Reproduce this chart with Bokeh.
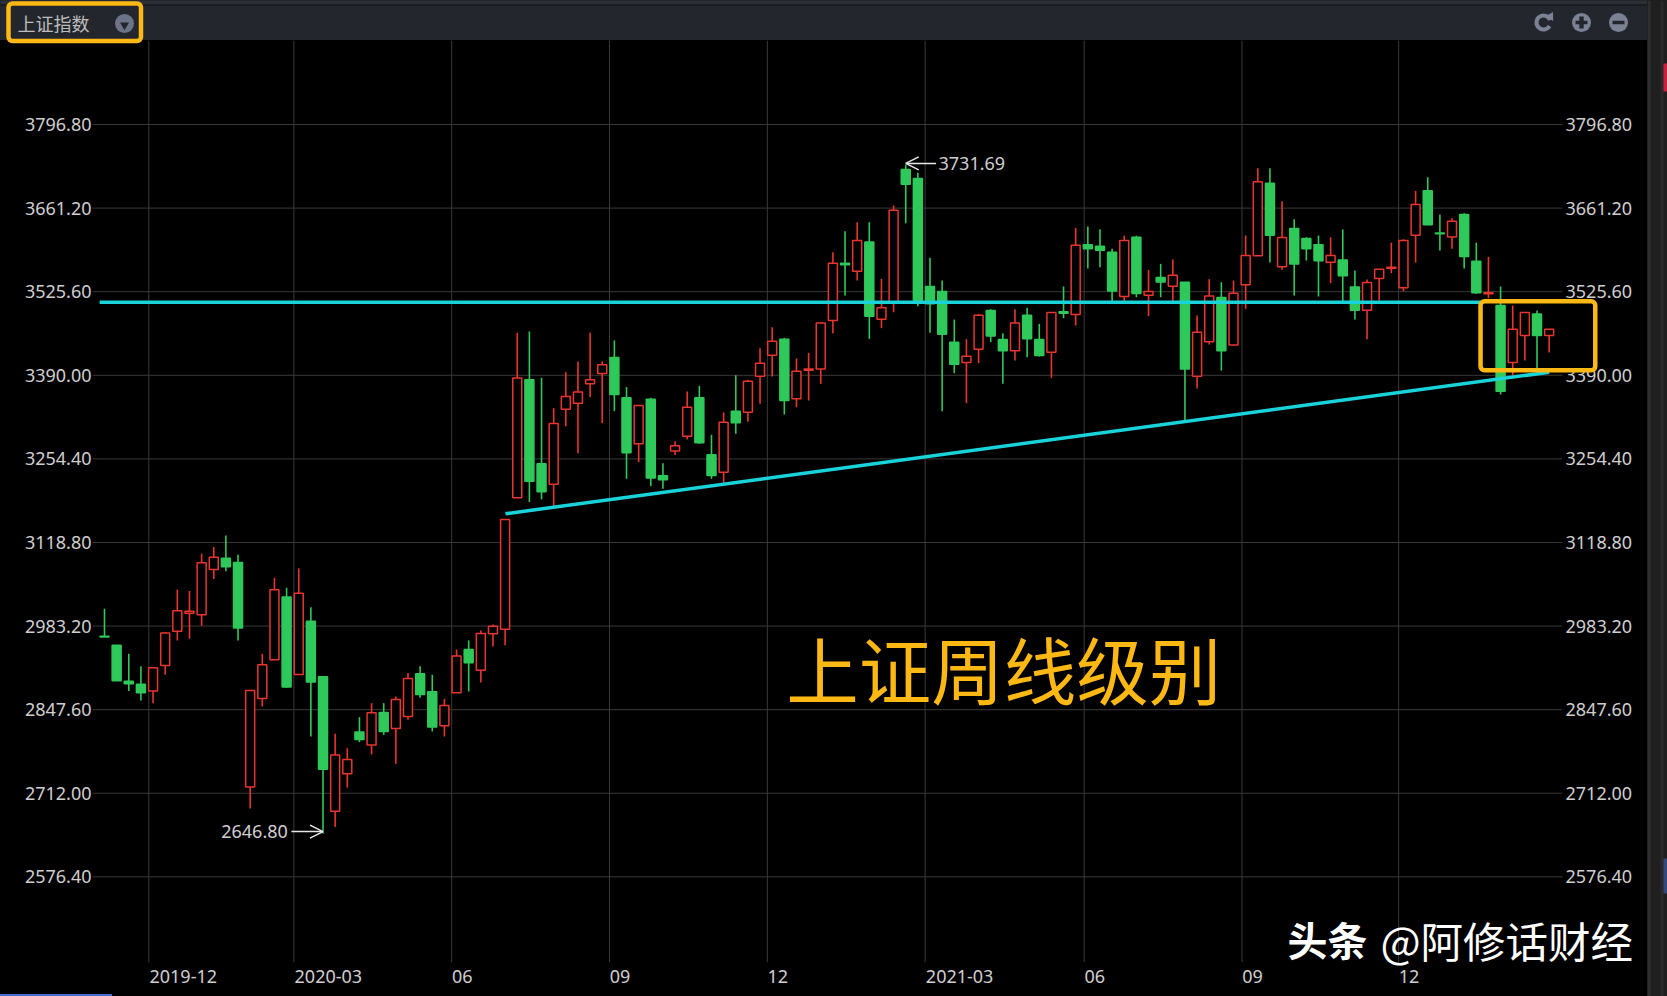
from bokeh.plotting import figure
from bokeh.embed import file_html
from bokeh.resources import INLINE
from bokeh.core.properties import value
from bokeh.models import (ColumnDataSource, Range1d, LinearAxis, FixedTicker, Label,
                          BoxAnnotation, Arrow, OpenHead)

opens = [2966.9, 2952.3, 2893.9, 2889.0, 2877.7, 2919.3, 2975.0, 3004.2, 3001.5, 3075.0, 3093.4, 3086.4, 2722.0, 2865.8, 2928.5, 3030.2, 2904.7, 2991.2, 2900.9, 2683.0, 2743.6, 2811.2, 2790.1, 2843.1, 2817.1, 2836.6, 2905.8, 2876.6, 2821.4, 2875.0, 2945.3, 2911.7, 2970.7, 2978.2,
         3191.3, 3382.7, 3246.4, 3213.4, 3335.1, 3344.8, 3376.2, 3392.9, 3418.9, 3353.5, 3278.9, 3351.3, 3226.9, 3267.0, 3291.3, 3353.5, 3261.0, 3232.9, 3331.8, 3330.2, 3388.6, 3422.7, 3448.6, 3351.9,
         3398.3, 3400.4, 3478.8, 3571.8, 3558.8, 3606.4, 3481.0, 3509.1, 3723.8, 3709.2, 3534.0, 3525.9, 3443.7, 3410.7, 3432.3, 3495.0, 3448.0, 3429.6, 3487.5, 3448.0, 3427.5, 3492.9, 3488.6, 3601.6, 3599.4, 3589.7, 3517.8, 3614.0, 3519.9, 3548.6, 3534.5,
         3541.0, 3388.5, 3444.2, 3516.1, 3439.3, 3536.7, 3583.7, 3701.6, 3565.9, 3628.1, 3611.8, 3601.6, 3573.4, 3577.2, 3533.4, 3495.6, 3546.9, 3563.7, 3531.8, 3617.2, 3689.2, 3621.0, 3614.5, 3650.8, 3575.1, 3522.1, 3503.2, 3410.7, 3454.5, 3489.6, 3454.5]
closes = [2965.3, 2894.4, 2889.6, 2875.0, 2915.5, 2971.8, 3008.0, 3007.4, 3085.8, 3095.0, 3079.4, 2979.9, 2878.8, 2920.4, 3042.1, 2884.2, 3036.6, 2892.3, 2751.1, 2773.9, 2766.8, 2799.3, 2842.5, 2812.3, 2864.2, 2898.2, 2872.3, 2819.3, 2854.4, 2934.5, 2923.6, 2971.2, 2983.1, 3156.1,
          3385.4, 3218.3, 3201.0, 3311.8, 3355.6, 3362.7, 3382.7, 3407.0, 3358.9, 3264.3, 3341.0, 3223.2, 3220.5, 3275.6, 3338.3, 3280.5, 3227.5, 3314.0, 3312.9, 3380.5, 3409.7, 3445.4, 3349.1, 3396.7,
          3400.4, 3475.0, 3571.8, 3569.1, 3608.6, 3485.9, 3499.4, 3657.8, 3700.0, 3511.8, 3505.9, 3456.7, 3408.0, 3421.0, 3487.5, 3453.9, 3429.6, 3475.0, 3449.1, 3422.0, 3491.8, 3490.7, 3601.0, 3595.1, 3592.9, 3526.9, 3608.6, 3522.6, 3525.9, 3541.5, 3552.4,
          3400.4, 3459.9, 3518.8, 3429.6, 3523.2, 3584.3, 3703.8, 3617.2, 3613.5, 3570.7, 3595.1, 3575.6, 3584.3, 3551.3, 3495.6, 3540.5, 3562.1, 3565.3, 3608.6, 3667.0, 3634.0, 3619.4, 3640.0, 3582.6, 3523.7, 3523.7, 3364.2, 3464.8, 3491.8, 3454.5, 3464.8]
highs = [3011.2, 2952.3, 2938.2, 2918.2, 2915.5, 2973.4, 3042.6, 3039.9, 3100.4, 3111.3, 3130.2, 3098.8, 2878.8, 2938.2, 3061.5, 3045.3, 3076.7, 3013.9, 2900.9, 2808.5, 2785.2, 2835.5, 2858.2, 2858.2, 2869.0, 2906.9, 2918.2, 2904.2, 2865.2, 2945.3, 2959.9, 2976.1, 2985.8, 3156.1,
         3458.9, 3461.1, 3385.9, 3336.7, 3395.1, 3412.4, 3458.9, 3412.4, 3446.5, 3370.8, 3341.0, 3353.5, 3247.5, 3283.2, 3363.7, 3372.9, 3293.5, 3329.7, 3390.2, 3382.7, 3434.0, 3468.1, 3450.8, 3417.3,
         3426.4, 3476.1, 3589.7, 3623.7, 3638.3, 3638.3, 3546.4, 3665.4, 3731.69, 3718.4, 3580.5, 3543.7, 3480.4, 3448.5, 3489.6, 3497.2, 3458.3, 3497.2, 3499.4, 3473.4, 3491.8, 3534.0, 3629.1, 3631.3, 3627.0, 3595.1, 3616.2, 3616.2, 3561.0, 3570.7, 3577.8,
         3541.0, 3486.9, 3545.9, 3541.0, 3543.7, 3616.7, 3725.9, 3725.9, 3672.4, 3643.2, 3614.0, 3616.7, 3614.0, 3626.4, 3559.9, 3545.3, 3562.1, 3604.8, 3610.8, 3689.2, 3711.3, 3650.8, 3644.8, 3652.9, 3604.8, 3582.1, 3534.0, 3503.2, 3491.8, 3495.0, 3464.8]
lows = [2965.3, 2894.4, 2877.7, 2862.5, 2858.2, 2904.2, 2959.9, 2962.6, 2983.7, 3059.4, 3072.3, 2959.9, 2687.3, 2852.8, 2928.5, 2883.1, 2904.7, 2804.1, 2646.8, 2657.1, 2720.9, 2795.0, 2775.0, 2806.8, 2759.8, 2831.2, 2866.9, 2812.3, 2804.1, 2875.0, 2877.1, 2891.7, 2950.1, 2952.3,
        3191.3, 3184.2, 3188.6, 3177.2, 3307.5, 3263.7, 3354.6, 3312.4, 3331.8, 3222.1, 3249.1, 3210.2, 3205.9, 3260.5, 3285.9, 3278.9, 3222.1, 3215.6, 3295.1, 3314.5, 3343.7, 3388.1, 3326.4, 3338.3,
        3349.1, 3376.1, 3458.3, 3519.4, 3543.7, 3449.1, 3466.4, 3492.3, 3636.7, 3502.1, 3458.8, 3331.8, 3393.4, 3344.7, 3409.6, 3443.7, 3376.1, 3413.9, 3419.3, 3420.4, 3385.8, 3482.6, 3470.7, 3563.2, 3565.3, 3505.9, 3505.9, 3516.7, 3485.9, 3516.7, 3508.6,
        3316.6, 3368.5, 3439.9, 3397.7, 3439.3, 3497.7, 3583.7, 3572.9, 3561.0, 3519.4, 3576.1, 3517.8, 3539.4, 3505.9, 3480.4, 3448.5, 3511.3, 3555.6, 3526.4, 3572.9, 3634.0, 3592.4, 3595.1, 3563.2, 3522.1, 3515.0, 3358.8, 3389.6, 3413.9, 3400.4, 3426.9]

price_ticks = [3796.80, 3661.20, 3525.60, 3390.00, 3254.40, 3118.80, 2983.20, 2847.60, 2712.00, 2576.40]
month_ticks = [3.65, 15.6, 28.6, 41.6, 54.6, 67.6, 80.7, 93.7, 106.6]
month_labels = ["2019-12", "2020-03", "06", "09", "12", "2021-03", "06", "09", "12"]

resistance_price = 3508.6
support_idx = [33.03, 119.0]
support_price = [3165.4, 3395.0]
low_point = (18, 2646.80)
high_point = (66, 3731.69)

RED, GREEN, CYAN, ORANGE = "#e8352f", "#2fc85a", "#19d3da", "#fdb813"
FONT = "Noto Sans"
CJK = "Noto Sans CJK SC"
LABEL = "#cfcfcf"
PANEL = "#23262d"
EDGE = "#2c2f35"


def pin(left, top, backing=None):
    css = {"position": "fixed", "left": f"{left}px", "top": f"{top}px"}
    if backing:
        css["background-color"] = backing
    return css


# ---- header ----
hdr = figure(width=1647, height=40, x_range=Range1d(0, 1647), y_range=Range1d(40, 0),
             x_axis_type=None, y_axis_type=None, toolbar_location=None, output_backend="svg",
             min_border=0, background_fill_color=PANEL, border_fill_color=PANEL, outline_line_color=None,
             styles=pin(0, 0, PANEL))
hdr.quad(left=[0], right=[1647], top=[0], bottom=[4], fill_color=EDGE, line_color=None)
hdr.quad(left=[0], right=[1647], top=[4], bottom=[5], fill_color="#111317", line_color=None)
hdr.text(x=[17], y=[22], text=["上证指数"], text_font=value(CJK), text_font_size="18px",
         text_color="#bdbdbd", text_baseline="middle")
ICON = "#7b8294"
hdr.scatter(x=[124, 1581, 1618], y=[23, 22, 22], size=19, marker="circle",
            fill_color=["#6e7488", ICON, ICON], line_color=None)
hdr.scatter(x=[124], y=[24.5], size=9, marker="inverted_triangle", fill_color=PANEL, line_color=None)
hdr.quad(left=[1575, 1578.8], right=[1587, 1583.2], top=[20.3, 16], bottom=[23.7, 28], fill_color=PANEL, line_color=None)
hdr.quad(left=[1612], right=[1624], top=[20.3], bottom=[23.7], fill_color=PANEL, line_color=None)
hdr.arc(x=[1543], y=[22], radius=[7], start_angle=[0.35], end_angle=[5.75], line_color=ICON, line_width=4)
hdr.scatter(x=[1550], y=[16], size=9, marker="triangle", angle=[-0.5], fill_color=ICON, line_color=None)

# ---- main chart ----
idx = list(range(len(opens)))
is_up = [c >= o for o, c in zip(opens, closes)]
src = ColumnDataSource(dict(
    x=idx, high=highs, low=lows,
    top=[max(o, c) for o, c in zip(opens, closes)],
    bottom=[min(o, c) for o, c in zip(opens, closes)],
    stroke=[RED if u else GREEN for u in is_up],
    fill=["#000000" if u else GREEN for u in is_up],
))

X0, X1, Y0, Y1 = -0.988, 120.1, 2437.5, 3933.05
p = figure(width=1647, height=956, x_range=Range1d(X0, X1), y_range=Range1d(Y0, Y1),
           x_axis_type=None, y_axis_type=None, toolbar_location=None, output_backend="svg",
           background_fill_color="#000000", border_fill_color="#000000", outline_line_color=None,
           min_border_left=92, min_border_right=85, min_border_top=0, min_border_bottom=34,
           styles=pin(0, 40, "#000000"))

ytick = FixedTicker(ticks=price_ticks)
overrides_y = {t: f"{t:.2f}" for t in price_ticks}
AXIS_STYLE = dict(axis_line_color=None, major_tick_line_color=None, minor_tick_line_color=None,
                  major_tick_out=0, major_tick_in=0, minor_tick_out=0, minor_tick_in=0,
                  major_label_text_color=LABEL, major_label_text_font=FONT, major_label_text_font_size="18px")
for where, standoff in (("left", 1), ("right", 3)):
    p.add_layout(LinearAxis(ticker=ytick, major_label_overrides=overrides_y, major_label_standoff=standoff,
                            **AXIS_STYLE), where)

label_ticks = [round(t + (2.84 if len(l) > 2 else 0.865), 3) for t, l in zip(month_ticks, month_labels)]
p.add_layout(LinearAxis(ticker=FixedTicker(ticks=label_ticks),
                        major_label_overrides=dict(zip(label_ticks, month_labels)),
                        major_label_standoff=7, **AXIS_STYLE), "below")

GRID = "#3a3a3a"
p.segment(x0=month_ticks, x1=month_ticks, y0=[Y0] * len(month_ticks), y1=[Y1] * len(month_ticks),
          line_color=GRID, line_width=1)
p.segment(x0=[X0] * len(price_ticks), x1=[X1] * len(price_ticks), y0=price_ticks, y1=price_ticks,
          line_color=GRID, line_width=1)

p.segment(x0="x", x1="x", y0="low", y1="high", color="stroke", line_width=1.6, source=src)
p.vbar(x="x", width=0.74, top="top", bottom="bottom", fill_color="fill", line_color="stroke", line_width=1.5, source=src)

p.line(x=[-0.4, 113.6], y=[resistance_price, resistance_price], line_color=CYAN, line_width=3.5)
p.line(x=support_idx, y=support_price, line_color=CYAN, line_width=3.5)

p.add_layout(Arrow(end=OpenHead(size=13, line_color="#e8e8e8", line_width=1.5), line_color="#e8e8e8", line_width=1.5,
                   x_start=low_point[0] - 2.6, y_start=low_point[1] + 3, x_end=low_point[0], y_end=low_point[1] + 3))
p.add_layout(Label(x=low_point[0] - 2.9, y=low_point[1] + 3, text="2646.80", text_align="right", text_baseline="middle",
                   text_color=LABEL, text_font=FONT, text_font_size="18px"))
p.add_layout(Arrow(end=OpenHead(size=13, line_color="#e8e8e8", line_width=1.5), line_color="#e8e8e8", line_width=1.5,
                   x_start=high_point[0] + 2.5, y_start=high_point[1] + 2, x_end=high_point[0], y_end=high_point[1] + 2))
p.add_layout(Label(x=high_point[0] + 2.7, y=high_point[1] + 2, text="3731.69", text_align="left", text_baseline="middle",
                   text_color=LABEL, text_font=FONT, text_font_size="18px"))

p.text(x=[56.15], y=[2916], text=["上证周线级别"], text_font=value(CJK), text_font_size="72.5px", text_color=ORANGE,
       text_baseline="middle", text_align="left")

# ---- transparent overlay, same scales, for what runs past the plot area ----
ov = figure(width=1575, height=956, x_range=Range1d(X0, 128.75), y_range=Range1d(2382.4, Y1),
            x_axis_type=None, y_axis_type=None, toolbar_location=None, output_backend="svg",
            min_border=0, outline_line_color=None, background_fill_alpha=0, border_fill_alpha=0,
            styles=pin(92, 40))
ov.add_layout(BoxAnnotation(left=113.35, right=122.8, top=3510, bottom=3398, fill_alpha=0,
                            line_color=ORANGE, line_alpha=1, line_width=4.5, border_radius=4))
ov.text(x=[97.45], y=[2475], text=["头条"], text_font=value(CJK), text_font_size="40px", text_font_style="bold",
        text_color="#ffffff", text_baseline="middle")
ov.text(x=[105.1], y=[2475], text=["@阿修话财经"], text_font=value(CJK), text_font_size="42.5px",
        text_color="#ffffff", text_baseline="middle")

# ---- orange frame round the index name, it runs just past the header ----
tag = figure(width=150, height=48, x_range=Range1d(0, 150), y_range=Range1d(48, 0),
             x_axis_type=None, y_axis_type=None, toolbar_location=None, output_backend="svg",
             min_border=0, outline_line_color=None, background_fill_alpha=0, border_fill_alpha=0,
             styles=pin(0, 0))
tag.add_layout(BoxAnnotation(left=8, right=140.5, top=3, bottom=40.5, fill_alpha=0,
                             line_color=ORANGE, line_alpha=1, line_width=4.5, border_radius=4))

# ---- right side strip ----
side = figure(width=20, height=996, x_range=Range1d(0, 20), y_range=Range1d(996, 0),
              x_axis_type=None, y_axis_type=None, toolbar_location=None, output_backend="svg",
              min_border=0, background_fill_color="#1f1f1f", border_fill_color="#1f1f1f", outline_line_color=None,
              styles=pin(1647, 0, "#1f1f1f"))
side.quad(left=[0], right=[3], top=[0], bottom=[996], fill_color="#2e2e2e", line_color=None)
side.quad(left=[13], right=[16], top=[0], bottom=[996], fill_color="#2a2a2a", line_color=None)
side.quad(left=[16, 16], right=[20, 20], top=[63, 858], bottom=[91, 893],
          fill_color=["#c8203f", "#34497a"], line_color=None)

# ---- bottom-left tab marker ----
tab = figure(width=112, height=2, x_range=Range1d(0, 1), y_range=Range1d(0, 1),
             x_axis_type=None, y_axis_type=None, toolbar_location=None, output_backend="svg",
             min_border=0, background_fill_color="#3f6fd0", border_fill_color="#3f6fd0", outline_line_color=None,
             styles=pin(0, 994, "#3f6fd0"))

open("out.html", "w").write(file_html([hdr, p, ov, tag, side, tab], INLINE))
